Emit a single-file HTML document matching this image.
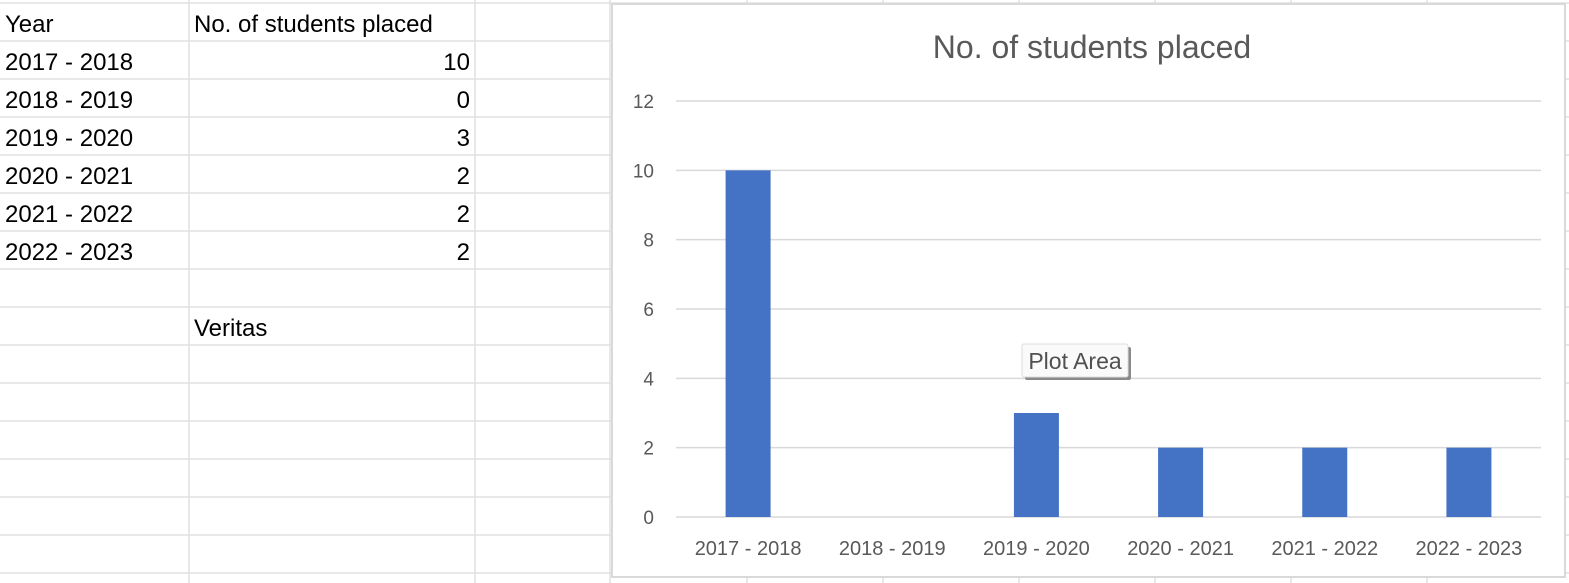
<!DOCTYPE html>
<html><head><meta charset="utf-8"><style>
html,body{margin:0;padding:0;background:#fff;width:1569px;height:583px;overflow:hidden;font-family:"Liberation Sans",sans-serif;}
#sheet{position:absolute;left:0;top:0;width:1569px;height:583px;}
.cell{position:absolute;font-size:24px;color:#000;line-height:38px;white-space:nowrap;}
#chart{position:absolute;left:611px;top:3px;width:955px;height:575px;background:#fff;border:2px solid #d9d9d9;box-sizing:border-box;}
</style></head><body>
<svg id="sheet" width="1569" height="583"></svg>
<div id="cells"></div>
<div id="chart">
<svg id="cs" width="951" height="571"></svg>
</div>
<script>
const categories=["2017 - 2018","2018 - 2019","2019 - 2020","2020 - 2021","2021 - 2022","2022 - 2023"];
const values=[10,0,3,2,2,2];
const yTicks=[0,2,4,6,8,10,12];
const title="No. of students placed";
const NS="http://www.w3.org/2000/svg";
const g=document.getElementById('sheet');
for(let i=0;i<16;i++){const y=3+i*38;const l=document.createElementNS(NS,'line');
l.setAttribute('x1',0);l.setAttribute('x2',1569);l.setAttribute('y1',y);l.setAttribute('y2',y);
l.setAttribute('stroke','#e1e1e1');l.setAttribute('stroke-width','1.5');

g.appendChild(l);}
[189,475,610,747,883,1019,1155,1291,1427].forEach(x=>{const l=document.createElementNS(NS,'line');
l.setAttribute('x1',x);l.setAttribute('x2',x);l.setAttribute('y1',0);l.setAttribute('y2',583);
l.setAttribute('stroke','#e1e1e1');l.setAttribute('stroke-width','1.5');

g.appendChild(l);});
const cells=document.getElementById('cells');
function cell(txt,x,y,right){const d=document.createElement('div');d.className='cell';d.textContent=txt;
d.style.top=y+'px';if(right){d.style.left=(x-200)+'px';d.style.width='200px';d.style.textAlign='right';}else d.style.left=x+'px';

cells.appendChild(d);}
cell('Year',5,6);cell('No. of students placed',194,6);
categories.forEach((c,i)=>{cell(c,5,44+i*38);cell(String(values[i]),470,44+i*38,true);});
cell('Veritas',194,310);
const s=document.getElementById('cs');
const ox=613,oy=5;
const x0=676-ox,x1=1541-ox,yTop=101-oy,yBot=517-oy,yMax=12;
const yS=v=>yBot-(v/yMax)*(yBot-yTop);
const bw=(x1-x0)/categories.length;
function el(t,a,txt){const e=document.createElementNS(NS,t);for(const k in a)e.setAttribute(k,a[k]);if(txt!==undefined)e.textContent=txt;s.appendChild(e);return e;}
const tt=el('text',{x:1092-ox,y:53,'text-anchor':'middle','font-size':'32','fill':'#595959','font-family':'Liberation Sans, sans-serif'},title);

yTicks.forEach(v=>{const l=el('line',{x1:x0,x2:x1,y1:yS(v),y2:yS(v),stroke:'#d9d9d9','stroke-width':'1.5'});

const t=el('text',{x:x0-22,y:yS(v)+7,'text-anchor':'end','font-size':'19','fill':'#595959','font-family':'Liberation Sans, sans-serif'},String(v));
});
categories.forEach((c,i)=>{const cx=x0+bw*(i+0.5);
const b=el('rect',{x:cx-22.5,y:yS(values[i]),width:45,height:yBot-yS(values[i]),fill:'#4472c4'});

const t=el('text',{x:cx,y:yBot+38,'text-anchor':'middle','font-size':'20','fill':'#595959','font-family':'Liberation Sans, sans-serif'},c);
});
const sh=el('rect',{x:1025-ox,y:347-oy,width:106,height:33,fill:'#8a8a8a',rx:2});

const tb=el('rect',{x:1022-ox,y:344-oy,width:106,height:33,fill:'#fafafa',stroke:'#dcdcdc',rx:2});

const tx=el('text',{x:1075-ox,y:369-oy,'text-anchor':'middle','font-size':'23','fill':'#505050','font-family':'Liberation Sans, sans-serif'},'Plot Area');

</script>
</body></html>
